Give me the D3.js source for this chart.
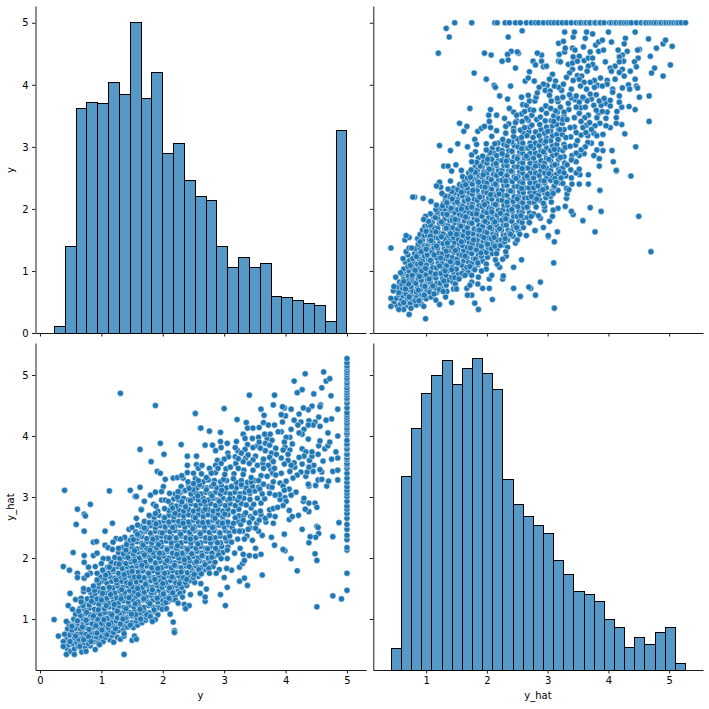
<!DOCTYPE html>
<html><head><meta charset="utf-8">
<script src="https://cdn.jsdelivr.net/npm/d3@7/dist/d3.min.js"></script>
<style>html,body{margin:0;padding:0;background:#fff}svg{display:block}text{font-family:"DejaVu Sans",sans-serif;font-size:10px;fill:#000}</style>
</head><body><svg id="c" width="709" height="709"></svg>
<script>
const yBinCounts=[.1,1.4,3.62,3.72,3.7,4.03,3.85,5.0,3.78,4.2,2.9,3.06,2.46,2.2,2.14,1.4,1.06,1.22,1.06,1.12,.59,.575,.53,.48,.45,.19,3.26];
const yBinRange=[.234,5.0];
const hatBinCounts=[.52,3.34,4.13,4.70,4.99,5.24,4.85,5.11,5.27,5.03,4.77,3.29,2.88,2.68,2.54,2.40,1.96,1.73,1.45,1.40,1.29,.99,.86,.54,.70,.58,.78,.86,.27];
const hatBinRange=[.427,5.27];
const xTickValues=[0,1,2,3,4,5];
const hatTickValues=[1,2,3,4,5];
const topTickValues=[0,1,2,3,4,5];
// y_hat of the points whose y is capped at 5
const cappedHat=[1.47,1.75,2.13,2.17,2.30,2.37,2.47,2.55,2.65,2.73,2.80,2.85,2.93,3.01,3.06,3.11,3.17,3.24,3.31,3.39,3.47,3.52,3.55,3.61,3.64,3.69,3.70,3.77,3.79,3.85,3.87,3.93,4.02,4.05,4.10,4.13,4.18,4.21,4.26,4.30,4.34,4.38,4.46,4.54,4.60,4.62,4.67,4.71,4.75,4.79,4.84,4.87,4.92,4.95,5.0,5.04,5.08,5.12,5.15,5.20,5.27];
// [y_hat, y]
const upperRead=[[1.33,4.91],[1.38,4.77],[1.2,4.51],[1.96,4.51],[2.07,4.48],[1.79,4.19],[1.99,4.09],[2.12,3.99],[2.14,3.96],[2.39,3.98],[2.35,4.77],[2.58,4.87],[2.40,4.54],[2.34,4.49],[2.35,4.40],[2.25,4.38],[2.52,4.51],[2.50,4.53],[2.47,4.27],[2.70,4.21],[2.63,4.06],[2.68,4.11],[2.78,4.06],[2.76,4.38],[2.80,4.32],[2.90,4.38],[2.90,4.48],[2.83,4.51],[2.93,4.29],[2.98,4.30],[3.08,4.17],[3.03,4.09],[3.18,4.67],[3.26,4.70],[3.28,4.85],[3.42,4.77],[3.44,4.85],[3.19,4.49],[3.28,4.53],[3.29,4.59],[3.41,4.59],[3.18,4.38],[3.21,4.37],[3.45,4.56],[3.42,4.45],[3.52,4.46],[3.34,4.33],[3.41,4.35],[3.41,4.25],[3.49,4.38],[3.60,4.39],[3.67,4.43],[3.74,4.43],[3.59,4.61],[3.62,4.75],[3.64,4.85],[3.74,4.82],[3.70,4.53],[3.79,4.64],[3.84,4.69],[3.90,4.72],[3.84,4.54],[3.92,4.56],[4.05,4.69],[4.0,4.85],[4.44,4.85],[4.28,4.75],[4.66,4.74],[4.26,4.66],[4.16,4.56],[4.31,4.54],[4.23,4.48],[4.18,4.45],[4.25,4.38],[4.51,4.57],[4.48,4.56],[4.79,4.59],[4.90,4.66],[4.94,4.72],[5.05,4.62],[4.69,4.46],[4.49,4.43],[4.43,4.37],[4.18,4.37],[5.02,4.32],[4.76,4.27],[4.71,4.19],[4.90,4.14],[4.46,4.29],[4.36,4.22],[4.11,4.30],[4.23,4.25],[4.18,4.20],[3.95,4.37],[4.03,4.27],[4.05,4.22],[3.79,4.27],[3.74,4.33],[3.67,4.30],[3.65,4.22],[3.54,4.27],[4.26,4.14],[4.11,4.09],[4.44,4.09],[4.33,4.0],[4.23,3.95],[4.46,3.98],[4.48,3.95],[4.07,3.93],[4.07,3.88],[4.35,3.93],[3.49,4.15],[3.56,4.14],[3.36,4.19],[3.42,4.07],[3.31,4.12],[3.52,4.09],[3.60,4.04],[3.77,4.07],[3.87,4.11],[3.98,4.07],[3.98,4.01],[3.82,3.99],[3.90,3.98],[3.70,4.04],[3.77,3.96],[3.64,3.93],[3.54,3.98],[3.39,3.93],[3.23,3.91],[3.18,3.96],[3.26,4.01],[3.13,4.06],[3.11,3.98],[2.99,3.99],[2.93,4.01],[2.86,3.96],[2.96,3.91],[3.04,3.90],[2.83,3.87],[3.03,3.83],[2.68,3.83],[2.57,3.80],[2.21,3.82],[2.34,3.77],[4.67,3.82],[4.51,3.80],[4.18,3.82],[3.93,3.78],[3.70,3.85],[3.80,3.84],[3.36,3.84],[3.47,3.82],[3.58,3.80],[3.25,3.80]];
// [y, y_hat]
const lowerRead=[[1.31,4.70],[1.88,4.50],[2.53,4.37],[2.61,4.13],[1.96,3.88],[1.63,3.78],[2.30,3.86],[2.02,3.70],[2.40,3.67],[2.55,3.67],[1.81,3.58],[2.40,3.52],[2.55,3.53],[2.58,3.47],[1.91,3.42],[1.96,3.39],[2.40,3.40],[2.50,3.39],[2.04,3.29],[2.17,3.31],[2.24,3.32],[2.33,3.31],[2.31,3.35],[2.58,3.27],[.40,3.11],[1.13,3.10],[1.47,3.11],[1.63,3.16],[2.01,3.17],[1.55,3.01],[1.57,3.01],[1.80,3.03],[1.88,3.08],[1.98,3.09],[2.11,3.06],[1.70,2.93],[.61,2.80],[.82,2.88],[1.65,2.80],[1.85,2.88],[1.89,2.85],[1.98,2.95],[2.04,2.95],[2.09,2.93],[2.03,2.81],[2.25,3.09],[2.37,3.11],[2.43,3.14],[2.50,3.22],[.72,2.72],[.74,2.69],[.59,2.55],[1.18,2.57],[.72,2.44],[1.06,2.44],[.87,2.26],[.92,2.27],[.54,2.09],[.72,2.04],[.72,1.93],[.87,2.04],[.93,2.08],[.38,1.86],[.48,1.80],[.61,1.75],[.61,1.68],[.49,1.42],[.58,1.32],[.67,1.34],[.67,1.28],[.46,1.22],[.53,1.16],[.23,.99],[.43,.96],[.30,.72],[.40,.75],[1.37,.42],[.43,.42],[.56,.42],[.38,.63],[.38,.55],[.75,.47],[.95,.60],[.97,.58],[1.50,.65],[1.54,.72],[1.57,.67],[1.37,.72],[1.37,.76],[1.80,1.04],[1.88,.99],[1.83,.96],[2.17,.95],[2.19,.81],[2.19,.78],[2.12,1.08],[1.99,1.16],[2.06,1.17],[2.35,1.24],[2.43,1.22],[2.37,1.17],[2.25,1.26],[2.32,1.36],[2.45,1.40],[3.02,1.22],[2.94,1.40],[3.05,1.52],[3.38,1.55],[3.25,1.62],[3.33,1.67],[3.62,1.72],[3.00,1.68],[2.69,1.29],[2.69,1.36],[2.71,1.49],[2.61,1.42],[2.62,1.58],[3.12,1.80],[3.04,1.83],[2.92,1.81],[2.87,1.75],[2.76,1.75],[2.63,1.74],[3.25,1.85],[3.30,1.91],[3.33,1.96],[3.05,1.99],[2.95,1.99],[3.31,2.06],[3.41,2.04],[3.51,2.03],[3.60,2.06],[3.51,2.16],[3.26,2.16],[3.17,2.08],[3.46,2.29],[3.33,2.31],[3.62,2.37],[3.56,2.44],[3.51,2.49],[3.39,2.47],[3.30,2.44],[3.17,2.44],[3.25,2.44],[3.15,2.57],[3.31,2.62],[3.41,2.58],[3.57,2.62],[3.67,2.65],[3.74,2.70],[3.15,2.76],[3.35,2.74],[3.51,2.74],[3.59,2.77],[3.74,2.79],[3.80,2.81],[3.41,4.67],[3.00,4.45],[3.60,4.44],[3.65,4.34],[3.21,4.27],[3.36,4.22],[2.62,4.13],[2.76,4.08],[2.94,4.06],[3.38,4.13],[3.47,4.13],[3.57,4.14],[3.64,4.22],[3.72,4.18],[3.31,4.03],[3.34,3.96],[3.46,3.96],[3.56,3.98],[3.66,4.03],[3.75,4.03],[3.67,3.88],[3.57,3.90],[2.94,3.91],[3.05,3.88],[2.69,3.85],[2.81,3.85],[2.95,3.81],[2.86,3.76],[3.18,3.81],[3.20,3.91],[3.34,3.78],[3.47,3.81],[3.74,3.85],[3.59,3.80],[3.77,3.72],[3.74,3.65],[3.64,3.62],[3.47,3.61],[3.39,3.69],[3.28,3.72],[3.18,3.66],[3.07,3.66],[3.0,3.62],[3.72,3.52],[3.64,3.47],[3.54,3.52],[3.41,3.55],[3.31,3.58],[3.23,3.63],[3.10,3.49],[2.95,3.55],[2.86,3.52],[2.76,3.47],[2.64,3.52],[3.79,3.39],[3.70,3.34],[3.64,3.21],[3.56,3.27],[3.44,3.32],[3.31,3.37],[3.23,3.47],[3.15,3.30],[3.01,3.37],[2.90,3.47],[2.79,3.39],[2.71,3.32],[3.74,3.06],[3.78,3.16],[3.62,3.05],[1.45,2.47],[1.50,2.50],[1.59,2.54],[1.57,2.65],[1.65,2.79],[1.78,2.70],[1.88,2.73],[1.70,2.49],[1.59,2.39],[1.52,2.30],[1.41,2.22],[1.38,2.34],[1.24,2.32],[1.31,2.31],[1.19,2.26],[1.06,2.21],[1.11,2.17],[1.18,2.14],[1.28,2.16],[1.11,1.99],[1.03,1.99],[1.0,1.91],[.90,1.86],[.79,1.85],[.82,1.75],[.72,1.67],[.77,1.72],[.93,1.75],[1.13,1.85],[1.02,1.80],[.71,1.45],[.79,1.48],[.87,1.54],[.93,1.64],[.71,1.50]];
// estimated points of the dense band: [y, y_hat]
const denseBand=[[.44,.52],[.5,.47],[.56,.51],[.62,.55],[.68,.46],[.74,.53],[.82,.56],[.9,.5],
[.41,.6],[.47,.58],[.53,.6],[.6,.62],[.66,.6],[.72,.61],[.79,.6],[.87,.63],[.96,.66],[1.03,.63],[1.14,.66],[1.2,.62],
[.44,.67],[.5,.66],[.56,.69],[.63,.67],[.7,.7],[.76,.67],[.84,.7],[.92,.71],[1.0,.72],[1.07,.7],[1.17,.73],[1.26,.7],[1.31,.67],
[.42,.76],[.48,.74],[.55,.77],[.61,.75],[.68,.78],[.75,.75],[.83,.78],[.9,.77],[.98,.8],[1.05,.78],[1.13,.8],[1.2,.78],[1.28,.81],[1.36,.83],
[.45,.84],[.52,.82],[.59,.85],[.66,.84],[.73,.86],[.8,.83],[.88,.87],[.96,.85],[1.03,.88],[1.11,.86],[1.19,.89],[1.27,.87],[1.36,.9],[1.43,.87],[1.52,.86],[1.59,.9],
[.47,.92],[.54,.9],[.62,.93],[.7,.91],[.77,.94],[.85,.92],[.93,.95],[1.0,.93],[1.08,.96],[1.16,.94],[1.24,.97],[1.33,.95],[1.41,.97],[1.5,.94],[1.57,.97],[1.66,.94],[1.72,.98],
[.55,1.0],[.63,.98],[.7,1.01],[.78,1.0],[.86,1.02],[.94,1.0],[1.02,1.03],[1.1,1.01],[1.18,1.04],[1.26,1.02],[1.34,1.05],[1.42,1.03],[1.5,1.05],[1.58,1.02],[1.66,1.05],[1.73,1.03],
[.58,1.08],[.66,1.06],[.74,1.09],[.82,1.07],[.9,1.1],[.98,1.08],[1.06,1.11],[1.14,1.09],[1.22,1.12],[1.3,1.1],[1.38,1.13],[1.46,1.11],[1.54,1.13],[1.62,1.1],[1.7,1.13],[1.78,1.1],[1.87,1.12],[1.92,1.07],
[.65,1.17],[.73,1.15],[.81,1.18],[.89,1.16],[.97,1.19],[1.05,1.17],[1.13,1.2],[1.21,1.18],[1.29,1.21],[1.37,1.19],[1.45,1.22],[1.53,1.2],[1.61,1.22],[1.69,1.19],[1.77,1.22],[1.85,1.19],[1.93,1.21],[2.0,1.24],
[.72,1.25],[.8,1.23],[.88,1.27],[.96,1.24],[1.04,1.28],[1.12,1.26],[1.2,1.29],[1.28,1.27],[1.36,1.3],[1.44,1.28],[1.52,1.31],[1.6,1.28],[1.68,1.31],[1.76,1.28],[1.84,1.31],[1.92,1.28],[2.0,1.31],[2.08,1.28],[2.14,1.32],
[.77,1.33],[.85,1.36],[.93,1.33],[1.01,1.37],[1.09,1.34],[1.17,1.37],[1.25,1.35],[1.33,1.38],[1.41,1.36],[1.49,1.39],[1.57,1.37],[1.65,1.39],[1.73,1.36],[1.81,1.39],[1.89,1.36],[1.97,1.39],[2.05,1.36],[2.13,1.39],[2.2,1.37],
[.82,1.44],[.9,1.42],[.98,1.45],[1.06,1.43],[1.14,1.46],[1.22,1.43],[1.3,1.46],[1.38,1.44],[1.46,1.47],[1.54,1.45],[1.62,1.47],[1.7,1.44],[1.78,1.47],[1.86,1.44],[1.94,1.47],[2.02,1.44],[2.1,1.47],[2.18,1.45],[2.26,1.47],[2.33,1.45],
[.87,1.51],[.95,1.53],[1.03,1.5],[1.11,1.54],[1.19,1.51],[1.27,1.54],[1.35,1.52],[1.43,1.55],[1.51,1.53],[1.59,1.55],[1.67,1.52],[1.75,1.55],[1.83,1.52],[1.91,1.55],[1.99,1.52],[2.07,1.55],[2.15,1.52],[2.23,1.55],[2.31,1.52],[2.39,1.55],
[.93,1.6],[1.01,1.62],[1.09,1.59],[1.17,1.62],[1.25,1.59],[1.33,1.62],[1.41,1.6],[1.49,1.63],[1.57,1.61],[1.65,1.63],[1.73,1.6],[1.81,1.63],[1.89,1.6],[1.97,1.63],[2.05,1.6],[2.13,1.63],[2.21,1.6],[2.29,1.63],[2.37,1.6],[2.45,1.63],[2.52,1.6],
[.98,1.69],[1.06,1.67],[1.14,1.7],[1.22,1.67],[1.3,1.7],[1.38,1.68],[1.46,1.71],[1.54,1.69],[1.62,1.71],[1.7,1.68],[1.78,1.71],[1.86,1.68],[1.94,1.71],[2.02,1.68],[2.1,1.71],[2.18,1.68],[2.26,1.71],[2.34,1.68],[2.42,1.71],[2.5,1.68],[2.58,1.7],
[1.04,1.77],[1.12,1.75],[1.2,1.78],[1.28,1.75],[1.36,1.78],[1.44,1.76],[1.52,1.79],[1.6,1.77],[1.68,1.79],[1.76,1.76],[1.84,1.79],[1.92,1.76],[2.0,1.79],[2.08,1.76],[2.16,1.79],[2.24,1.76],[2.32,1.79],[2.4,1.76],[2.48,1.79],[2.56,1.76],[2.68,1.81],
[1.1,1.85],[1.18,1.83],[1.26,1.86],[1.34,1.83],[1.42,1.86],[1.5,1.84],[1.58,1.87],[1.66,1.85],[1.74,1.87],[1.82,1.84],[1.9,1.87],[1.98,1.84],[2.06,1.87],[2.14,1.84],[2.22,1.87],[2.3,1.84],[2.38,1.87],[2.46,1.84],[2.54,1.87],[2.62,1.84],[2.72,1.87],[2.82,1.86],
[1.16,1.93],[1.24,1.91],[1.32,1.94],[1.4,1.91],[1.48,1.94],[1.56,1.92],[1.64,1.95],[1.72,1.93],[1.8,1.95],[1.88,1.92],[1.96,1.95],[2.04,1.92],[2.12,1.95],[2.2,1.92],[2.28,1.95],[2.36,1.92],[2.44,1.95],[2.52,1.92],[2.6,1.95],[2.68,1.92],[2.76,1.95],
[1.22,2.01],[1.3,1.99],[1.38,2.02],[1.46,1.99],[1.54,2.02],[1.62,2.0],[1.7,2.03],[1.78,2.01],[1.86,2.03],[1.94,2.0],[2.02,2.03],[2.1,2.0],[2.18,2.03],[2.26,2.0],[2.34,2.03],[2.42,2.0],[2.5,2.03],[2.58,2.0],[2.66,2.03],[2.74,2.0],[2.84,2.03],
[1.28,2.09],[1.36,2.07],[1.44,2.1],[1.52,2.07],[1.6,2.1],[1.68,2.08],[1.76,2.11],[1.84,2.09],[1.92,2.11],[2.0,2.08],[2.08,2.11],[2.16,2.08],[2.24,2.11],[2.32,2.08],[2.4,2.11],[2.48,2.08],[2.56,2.11],[2.64,2.08],[2.72,2.11],[2.8,2.08],[2.9,2.11],[2.98,2.09],
[1.34,2.17],[1.42,2.15],[1.5,2.18],[1.58,2.15],[1.66,2.18],[1.74,2.16],[1.82,2.19],[1.9,2.17],[1.98,2.19],[2.06,2.16],[2.14,2.19],[2.22,2.16],[2.3,2.19],[2.38,2.16],[2.46,2.19],[2.54,2.16],[2.62,2.19],[2.7,2.16],[2.78,2.19],[2.86,2.16],[2.96,2.19],[3.06,2.18],
[1.42,2.26],[1.5,2.24],[1.58,2.27],[1.66,2.24],[1.74,2.27],[1.82,2.25],[1.9,2.28],[1.98,2.26],[2.06,2.28],[2.14,2.25],[2.22,2.28],[2.3,2.25],[2.38,2.28],[2.46,2.25],[2.54,2.28],[2.62,2.25],[2.7,2.28],[2.78,2.25],[2.86,2.28],[2.94,2.25],[3.04,2.28],[3.12,2.26],
[1.5,2.34],[1.58,2.32],[1.66,2.35],[1.74,2.32],[1.82,2.35],[1.9,2.33],[1.98,2.36],[2.06,2.34],[2.14,2.36],[2.22,2.33],[2.3,2.36],[2.38,2.33],[2.46,2.36],[2.54,2.33],[2.62,2.36],[2.7,2.33],[2.78,2.36],[2.86,2.33],[2.94,2.36],[3.02,2.33],
[1.56,2.43],[1.64,2.41],[1.72,2.44],[1.8,2.41],[1.88,2.44],[1.96,2.42],[2.04,2.45],[2.12,2.43],[2.2,2.45],[2.28,2.42],[2.36,2.45],[2.44,2.42],[2.52,2.45],[2.6,2.42],[2.68,2.45],[2.76,2.42],[2.84,2.45],[2.92,2.42],[3.02,2.45],[3.08,2.41],
[1.64,2.52],[1.72,2.5],[1.8,2.53],[1.88,2.5],[1.96,2.53],[2.04,2.51],[2.12,2.54],[2.2,2.52],[2.28,2.54],[2.36,2.51],[2.44,2.54],[2.52,2.51],[2.6,2.54],[2.68,2.51],[2.76,2.54],[2.84,2.51],[2.92,2.54],[3.0,2.51],[3.08,2.54],
[1.7,2.6],[1.78,2.58],[1.86,2.61],[1.94,2.58],[2.02,2.61],[2.1,2.59],[2.18,2.62],[2.26,2.6],[2.34,2.62],[2.42,2.59],[2.5,2.62],[2.58,2.59],[2.66,2.62],[2.74,2.59],[2.82,2.62],[2.9,2.59],[2.98,2.62],[3.06,2.59],[3.22,2.6],
[1.78,2.69],[1.86,2.67],[1.94,2.7],[2.02,2.67],[2.1,2.7],[2.18,2.68],[2.26,2.71],[2.34,2.69],[2.42,2.71],[2.5,2.68],[2.58,2.71],[2.66,2.68],[2.74,2.71],[2.82,2.68],[2.9,2.71],[2.98,2.68],[3.06,2.71],[3.24,2.69],[3.43,2.68],
[1.92,2.77],[2.1,2.78],[2.18,2.76],[2.26,2.79],[2.34,2.77],[2.42,2.8],[2.5,2.77],[2.58,2.8],[2.66,2.77],[2.74,2.8],[2.82,2.77],[2.9,2.8],[2.98,2.77],[3.06,2.8],[3.24,2.8],[3.44,2.82],
[2.14,2.87],[2.22,2.85],[2.3,2.88],[2.38,2.86],[2.46,2.89],[2.54,2.86],[2.62,2.89],[2.7,2.86],[2.78,2.89],[2.86,2.86],[2.94,2.89],[3.02,2.86],[3.1,2.89],[3.18,2.86],[3.28,2.89],[3.36,2.87],[3.48,2.88],[3.6,2.9],
[2.18,2.97],[2.26,2.95],[2.34,2.98],[2.42,2.95],[2.5,2.98],[2.58,2.95],[2.66,2.98],[2.74,2.95],[2.82,2.98],[2.9,2.95],[2.98,2.98],[3.06,2.95],[3.14,2.98],[3.22,2.95],[3.32,2.98],[3.42,2.96],[3.54,2.98],[3.66,2.97],
[2.2,3.05],[2.28,3.07],[2.46,3.05],[2.54,3.07],[2.62,3.05],[2.7,3.08],[2.78,3.05],[2.86,3.08],[2.94,3.05],[3.02,3.08],[3.1,3.05],[3.18,3.08],[3.26,3.05],[3.34,3.08],[3.42,3.06],[3.5,3.1],
[2.3,3.17],[2.42,3.2],[2.56,3.15],[2.64,3.18],[2.72,3.15],[2.8,3.18],[2.88,3.15],[2.96,3.18],[3.04,3.15],[3.12,3.18],[3.2,3.15],[3.28,3.18],[3.36,3.15],[3.46,3.18],[3.56,3.16],
[2.66,3.25],[2.84,3.27],[2.94,3.25],[3.04,3.27],[3.2,3.24],[3.28,3.27],[3.38,3.24],[3.5,3.27]];
// irregular points laid over the band, estimated: [y, y_hat]
const bandOverlay=[[.49,.63],[.58,.72],[.65,.55],[.71,.66],[.79,.71],[.83,.63],[.93,.77],[1.09,.74],[.52,.88],[.61,.97],[.69,.87],[.75,.98],[.91,.89],[1.01,.82],[1.12,.91],[1.23,.84],[1.31,.92],[1.39,1.01],[1.47,.9],[1.56,1.07],[1.64,1.0],
[.63,1.13],[.7,1.22],[.76,1.11],[.84,1.29],[.87,1.05],[.95,1.15],[1.0,1.31],[1.04,.99],[1.08,1.22],[1.15,1.4],[1.17,1.07],[1.21,1.24],[1.26,1.13],[1.32,1.33],[1.35,1.0],[1.4,1.17],[1.45,1.35],[1.49,1.08],[1.55,1.25],[1.6,1.4],[1.63,1.16],[1.69,1.33],[1.74,1.07],[1.79,1.25],[1.82,1.43],[1.86,1.15],[1.91,1.34],[1.95,1.18],[2.01,1.41],[2.05,1.27],[2.1,1.34],[2.16,1.43],[2.21,1.31],[2.28,1.42],
[.89,1.47],[.96,1.59],[1.02,1.42],[1.07,1.72],[1.13,1.52],[1.19,1.81],[1.24,1.64],[1.29,1.9],[1.33,1.48],[1.37,1.73],[1.43,2.01],[1.47,1.58],[1.5,1.78],[1.54,1.95],[1.59,1.5],[1.61,1.69],[1.66,1.88],[1.7,2.05],[1.72,1.57],[1.77,1.75],[1.8,1.97],[1.83,1.48],[1.87,1.65],[1.92,1.83],[1.95,2.08],[2.0,1.58],[2.03,1.75],[2.07,1.96],[2.11,1.51],[2.15,1.69],[2.19,1.88],[2.23,2.06],[2.27,1.58],[2.3,1.77],[2.35,1.97],[2.39,1.65],[2.43,1.86],[2.47,2.07],[2.51,1.73],[2.55,1.94],[2.59,1.81],[2.64,2.04],[2.69,1.89],[2.75,1.83],[2.8,2.01],[2.85,1.93],[2.91,2.05],
[1.4,2.13],[1.47,2.29],[1.54,2.12],[1.61,2.37],[1.68,2.21],[1.73,2.47],[1.79,2.13],[1.84,2.31],[1.89,2.56],[1.93,2.22],[1.99,2.41],[2.03,2.66],[2.07,2.14],[2.11,2.33],[2.16,2.5],[2.2,2.73],[2.24,2.2],[2.29,2.39],[2.33,2.57],[2.37,2.84],[2.4,2.14],[2.45,2.31],[2.49,2.48],[2.53,2.66],[2.57,2.23],[2.61,2.4],[2.65,2.58],[2.69,2.8],[2.73,2.15],[2.77,2.32],[2.81,2.5],[2.85,2.65],[2.89,2.25],[2.93,2.41],[2.97,2.57],[3.01,2.72],[3.05,2.13],[3.09,2.36],[3.13,2.5],[3.18,2.66],[3.22,2.31],[3.27,2.55],[3.32,2.7],[3.37,2.36],[3.42,2.49],[3.46,2.65],[3.53,2.57],[3.6,2.71],[3.68,2.59],
[2.16,2.82],[2.24,3.0],[2.31,2.92],[2.35,3.1],[2.41,3.25],[2.45,2.94],[2.49,3.12],[2.53,3.3],[2.57,3.02],[2.6,3.2],[2.63,3.38],[2.68,2.93],[2.71,3.12],[2.74,3.28],[2.77,3.45],[2.8,3.02],[2.83,3.21],[2.86,3.4],[2.89,3.6],[2.92,2.93],[2.96,3.11],[2.99,3.29],[3.03,3.46],[3.06,3.72],[3.09,2.97],[3.12,3.17],[3.16,3.38],[3.19,3.55],[3.22,3.76],[3.25,3.0],[3.28,3.2],[3.32,3.44],[3.35,3.64],[3.38,3.86],[3.41,3.1],[3.44,3.25],[3.47,3.44],[3.51,3.67],[3.54,3.84],[3.58,3.13],[3.6,3.35],[3.63,3.55],[3.67,3.76],[3.7,3.96],[3.73,3.17],[3.76,3.45],[3.78,3.6]];

const svg=d3.select("#c");
const xLeft=d3.scaleLinear().domain([-.073,5.31]).range([35.5,366]);
const xRight=d3.scaleLinear().domain([.13,5.557]).range([373.3,703]);
const yTop=d3.scaleLinear().domain([0,5.27]).range([333,6]);
const yLow=d3.scaleLinear().domain([.164,5.525]).range([670,343]);
const dotFill="#1f77b4",barFill="#5799c6";

const points=[
 ...denseBand.map(d=>({y:d[0],hat:d[1]})),
 ...bandOverlay.map(d=>({y:d[0],hat:d[1]})),
 ...lowerRead.map(d=>({y:d[0],hat:d[1]})),
 ...upperRead.map(d=>({y:d[1],hat:d[0]})),
 ...cappedHat.map(h=>({y:5,hat:h}))
];

function frame(x,y,xt,yt,showX,showY){
  const b=y.range()[0],l=x.range()[0];
  const gx=svg.append("g").attr("transform",`translate(0,${b})`)
    .call(d3.axisBottom(x).tickValues(xt).tickSizeInner(3.5).tickSizeOuter(0).tickPadding(3.5).tickFormat(showX?d3.format("d"):""));
  const gy=svg.append("g").attr("transform",`translate(${l},0)`)
    .call(d3.axisLeft(y).tickValues(yt).tickSizeInner(3.5).tickSizeOuter(0).tickPadding(3.5).tickFormat(showY?d3.format("d"):""));
  [gx,gy].forEach(g=>{g.select(".domain").attr("stroke","#000").attr("stroke-width",.9);
    g.selectAll(".tick line").attr("stroke","#000").attr("stroke-width",.9);
    g.selectAll("text").attr("fill","#000").style("font-size","10px").style("font-family","DejaVu Sans");});
}
function hist(counts,range,x,y){
  const w=(range[1]-range[0])/counts.length;
  svg.append("g").selectAll("rect").data(counts).join("rect")
    .attr("x",(d,i)=>x(range[0]+i*w)).attr("width",x(range[0]+w)-x(range[0]))
    .attr("y",d=>y(d)).attr("height",d=>y.range()[0]-y(d))
    .attr("fill",barFill).attr("stroke","#000").attr("stroke-width",1).attr("shape-rendering","crispEdges");
}
function scatter(x,y,fx,fy){
  svg.append("g").selectAll("circle").data(points).join("circle")
    .attr("cx",d=>x(fx(d))).attr("cy",d=>y(fy(d))).attr("r",3.1)
    .attr("fill",dotFill).attr("stroke","#fff").attr("stroke-width",.5);
}
hist(yBinCounts,yBinRange,xLeft,yTop);
frame(xLeft,yTop,xTickValues,topTickValues,false,true);
scatter(xRight,yTop,d=>d.hat,d=>d.y);
frame(xRight,yTop,hatTickValues,topTickValues,false,false);
scatter(xLeft,yLow,d=>d.y,d=>d.hat);
frame(xLeft,yLow,xTickValues,hatTickValues,true,true);
hist(hatBinCounts,hatBinRange,xRight,yLow);
frame(xRight,yLow,hatTickValues,hatTickValues,true,false);

svg.append("text").attr("x",200.5).attr("y",699).attr("text-anchor","middle").text("y");
svg.append("text").attr("x",538).attr("y",699).attr("text-anchor","middle").text("y_hat");
svg.append("text").attr("transform","translate(14,170) rotate(-90)").attr("text-anchor","middle").text("y");
svg.append("text").attr("transform","translate(14,507) rotate(-90)").attr("text-anchor","middle").text("y_hat");
</script></body></html>
